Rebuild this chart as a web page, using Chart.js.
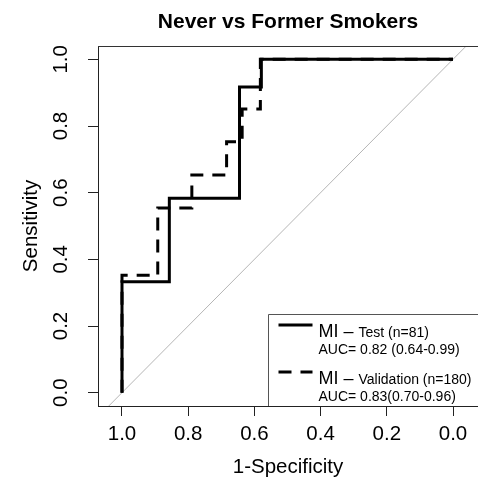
<!DOCTYPE html>
<html><head><meta charset="utf-8">
<script src="https://cdn.jsdelivr.net/npm/chart.js@4/dist/chart.umd.min.js"></script>
<style>html,body{margin:0;padding:0;background:#fff;overflow:hidden}#wrap{width:478px;height:479px;position:relative}</style>
</head><body><div id="wrap"><canvas id="c"></canvas></div>
<script>
const titleText = "Never vs Former Smokers";
const xTitle = "1-Specificity";
const yTitle = "Sensitivity";
const tickValues = [0, 0.2, 0.4, 0.6, 0.8, 1.0];
const testSpec = [1.0, 1.0, 0.857, 0.857, 0.645, 0.645, 0.579, 0.579, 0.0];
const testSens = [0.0, 0.333, 0.333, 0.583, 0.583, 0.917, 0.917, 1.0, 1.0];
const valSpec = [1.0, 1.0, 0.892, 0.892, 0.789, 0.789, 0.684, 0.684, 0.637, 0.637, 0.582, 0.582, 0.0];
const valSens = [0.0, 0.352, 0.352, 0.554, 0.554, 0.653, 0.653, 0.753, 0.753, 0.851, 0.851, 1.0, 1.0];
const diagSpec = [1.04, -0.04];
const diagSens = [-0.04, 1.04];
const legendMain = ["MI", "MI"];
const legendSub = ["Test (n=81)", "Validation (n=180)"];
const legendAuc = ["AUC= 0.82 (0.64-0.99)", "AUC= 0.83(0.70-0.96)"];
const legendDash = [[], [13, 9]];

const FAM = "'Liberation Sans', Arial, Helvetica, sans-serif";
Chart.defaults.font.family = FAM;
Chart.defaults.color = '#000';

const zip = (xs, ys) => xs.map((x, i) => ({x: x, y: ys[i]}));

const decor = {
  id: 'decor',
  afterDraw(chart) {
    const ctx = chart.ctx, a = chart.chartArea;
    ctx.save();
    // top border of plot box
    ctx.strokeStyle = '#333'; ctx.lineWidth = 1;
    ctx.beginPath(); ctx.moveTo(a.left, Math.round(a.top) + 0.5); ctx.lineTo(a.right, Math.round(a.top) + 0.5); ctx.stroke();
    // title
    ctx.fillStyle = '#000';
    ctx.font = "bold 21px " + FAM;
    ctx.textAlign = 'center'; ctx.textBaseline = 'alphabetic';
    ctx.fillText(titleText, (a.left + a.right) / 2, 28);
    // legend box
    const bl = Math.round(a.right - 210) + 0.5, bt = Math.round(a.bottom - 92) + 0.5;
    ctx.fillStyle = '#fff';
    ctx.fillRect(bl, bt, a.right - bl + 2, a.bottom - bt);
    ctx.strokeStyle = '#555'; ctx.lineWidth = 1;
    ctx.beginPath(); ctx.moveTo(bl, a.bottom); ctx.lineTo(bl, bt); ctx.lineTo(a.right + 2, bt); ctx.stroke();
    ctx.strokeStyle = '#222';
    ctx.beginPath(); ctx.moveTo(a.left, Math.round(a.bottom)+0.5); ctx.lineTo(a.right, Math.round(a.bottom)+0.5); ctx.stroke();
    for (let i = 0; i < legendMain.length; i++) {
      const ly = bt + 10.5 + i * 47;
      ctx.strokeStyle = '#000'; ctx.lineWidth = 3; ctx.setLineDash(legendDash[i]);
      ctx.beginPath(); ctx.moveTo(bl + 10, ly); ctx.lineTo(bl + 44, ly); ctx.stroke();
      ctx.setLineDash([]);
      ctx.fillStyle = '#000'; ctx.textAlign = 'left'; ctx.textBaseline = 'alphabetic';
      const tx = bl + 50;
      ctx.font = "18px " + FAM;
      const head = legendMain[i] + " \u2013 ";
      ctx.fillText(head, tx, ly + 12);
      const w = ctx.measureText(head).width;
      ctx.font = "14px " + FAM;
      ctx.fillText(legendSub[i], tx + w, ly + 12);
      ctx.fillText(legendAuc[i], tx, ly + 29);
    }
    ctx.restore();
  }
};

const tickFont = {size: 20.5, family: FAM};

new Chart(document.getElementById('c'), {
  type: 'scatter',
  data: {
    datasets: [
      {data: zip(diagSpec, diagSens), showLine: true, borderColor: '#b5b5b5', borderWidth: 1, pointRadius: 0, order: 3},
      {data: zip(valSpec, valSens), showLine: true, borderColor: '#000', borderWidth: 3, borderDash: [13, 9], pointRadius: 0, borderJoinStyle: 'miter', order: 2},
      {data: zip(testSpec, testSens), showLine: true, borderColor: '#000', borderWidth: 3, pointRadius: 0, borderJoinStyle: 'miter', order: 1}
    ]
  },
  options: {
    responsive: true, maintainAspectRatio: false, animation: false,
    layout: {padding: {top: 46, left: 0, right: 0, bottom: 0}},
    plugins: {legend: {display: false}, title: {display: false}, tooltip: {enabled: false}},
    scales: {
      x: {
        type: 'linear', reverse: true, min: -0.0755, max: 1.0725,
        afterBuildTicks: s => { s.ticks = tickValues.map(v => ({value: v})); },
        afterFit: s => { s.height = 73; s.paddingLeft = 0; s.paddingRight = 0; },
        ticks: {font: tickFont, color: '#000', padding: 6, autoSkip: false, maxRotation: 0, minRotation: 0, callback: v => Number(v).toFixed(1)},
        grid: {drawOnChartArea: false, drawTicks: true, tickLength: 10, color: '#222', lineWidth: 1},
        border: {display: true, color: '#222', width: 1},
        title: {display: true, text: xTitle, color: '#000', font: {size: 20.5, family: FAM, lineHeight: 1}, padding: {top: 0, bottom: 1}}
      },
      y: {
        type: 'linear', min: -0.04, max: 1.04,
        afterBuildTicks: s => { s.ticks = tickValues.map(v => ({value: v})); },
        afterFit: s => { s.width = 98; s.paddingTop = 0; s.paddingBottom = 0; },
        ticks: {font: tickFont, color: '#000', padding: 12, crossAlign: 'center', minRotation: 90, maxRotation: 90, autoSkip: false, callback: v => Number(v).toFixed(1)},
        grid: {drawOnChartArea: false, drawTicks: true, tickLength: 10, color: '#222', lineWidth: 1},
        border: {display: true, color: '#222', width: 1},
        title: {display: true, text: yTitle, color: '#000', font: {size: 20.5, family: FAM, lineHeight: 1.2}, padding: {top: 19, bottom: 0}}
      }
    }
  },
  plugins: [decor]
});
</script>
</body></html>
